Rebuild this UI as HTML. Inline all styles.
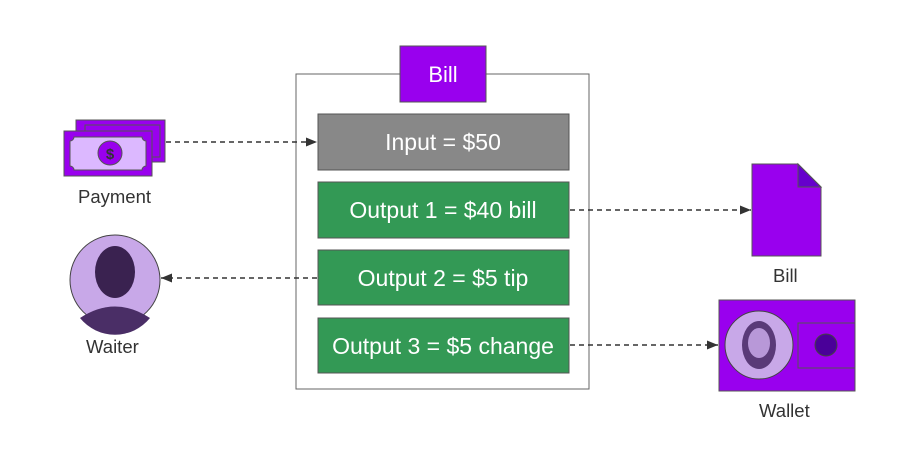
<!DOCTYPE html>
<html><head><style>
body{margin:0;background:#fff;font-family:"Liberation Sans",sans-serif;}
.t{position:absolute;font-size:18.5px;color:#333;}
</style></head><body>
<div style="position:relative;width:920px;height:457px;overflow:hidden">
<svg width="920" height="457" style="position:absolute;left:0;top:0" font-family="Liberation Sans, sans-serif">
<defs><marker id="a" markerWidth="12" markerHeight="12" refX="11" refY="6" orient="auto" markerUnits="userSpaceOnUse"><path d="M0,1.5 L11,6 L0,10.5 z" fill="#333"/></marker></defs>
<rect x="296" y="74" width="293" height="315" fill="#fff" stroke="#666" stroke-width="1"/>
<rect x="400" y="46" width="86" height="56" fill="#9900ee" stroke="#555"/>
<text x="443" y="82" text-anchor="middle" fill="#fff" font-size="22">Bill</text>
<rect x="318" y="114" width="251" height="56" fill="#888" stroke="#555"/>
<text x="443" y="150" text-anchor="middle" fill="#fff" font-size="23">Input = $50</text>
<rect x="318" y="182" width="251" height="56" fill="#339955" stroke="#555"/>
<text x="443" y="218" text-anchor="middle" fill="#fff" font-size="23">Output 1 = $40 bill</text>
<rect x="318" y="250" width="251" height="55" fill="#339955" stroke="#555"/>
<text x="443" y="286" text-anchor="middle" fill="#fff" font-size="23">Output 2 = $5 tip</text>
<rect x="318" y="318" width="251" height="55" fill="#339955" stroke="#555"/>
<text x="443" y="354" text-anchor="middle" fill="#fff" font-size="23">Output 3 = $5 change</text>
<g stroke="#333" stroke-width="1.5" stroke-dasharray="5,4" fill="none">
<line x1="166" y1="142" x2="317" y2="142" marker-end="url(#a)"/>
<line x1="570" y1="210" x2="751" y2="210" marker-end="url(#a)"/>
<line x1="317" y1="278" x2="161" y2="278" marker-end="url(#a)"/>
<line x1="570" y1="345" x2="718" y2="345" marker-end="url(#a)"/>
</g>
<rect x="76" y="120" width="89" height="42" fill="#9900ee" stroke="#555"/>
<rect x="85" y="125" width="75" height="32" fill="none" stroke="#555"/>
<rect x="64" y="131" width="88" height="45" fill="#9900ee" stroke="#555"/>
<path d="M74,137 H142 a4,4 0 0 0 4,4 V166 a4,4 0 0 0 -4,4 H74 a4,4 0 0 0 -4,-4 V141 a4,4 0 0 0 4,-4z" fill="#dcb8ff" stroke="#555"/>
<circle cx="110" cy="153" r="12" fill="#9900ee" stroke="#555"/>
<text x="110" y="159" text-anchor="middle" font-size="15" font-weight="bold" fill="#333">$</text>
<circle cx="115" cy="280" r="45" fill="#c8a8e8" stroke="#444"/>
<ellipse cx="115" cy="272" rx="20" ry="26" fill="#3a2250"/>
<path d="M80,318 Q115,295 150,318 A45,45 0 0 1 80,318z" fill="#4a2e66"/>
<path d="M752,164 H798 L821,187 V256 H752z" fill="#9900ee" stroke="#555"/>
<path d="M798,164 V187 H821z" fill="#6600cc" stroke="#555"/>
<rect x="719" y="300" width="136" height="91" fill="#9900ee" stroke="#555"/>
<rect x="798" y="323" width="57" height="45" fill="#9900ee" stroke="#555"/>
<circle cx="826" cy="345" r="11" fill="#4a0099" stroke="#444"/>
<circle cx="759" cy="345" r="34" fill="#c8a8e8" stroke="#444"/>
<ellipse cx="759" cy="345" rx="17" ry="24" fill="#5a3a78"/>
<ellipse cx="759" cy="343" rx="11" ry="15" fill="#b898d8"/>
</svg>
<div class="t" style="left:78px;top:186px">Payment</div>
<div class="t" style="left:86px;top:336px">Waiter</div>
<div class="t" style="left:773px;top:265px">Bill</div>
<div class="t" style="left:759px;top:400px">Wallet</div>
</div>
</body></html>
